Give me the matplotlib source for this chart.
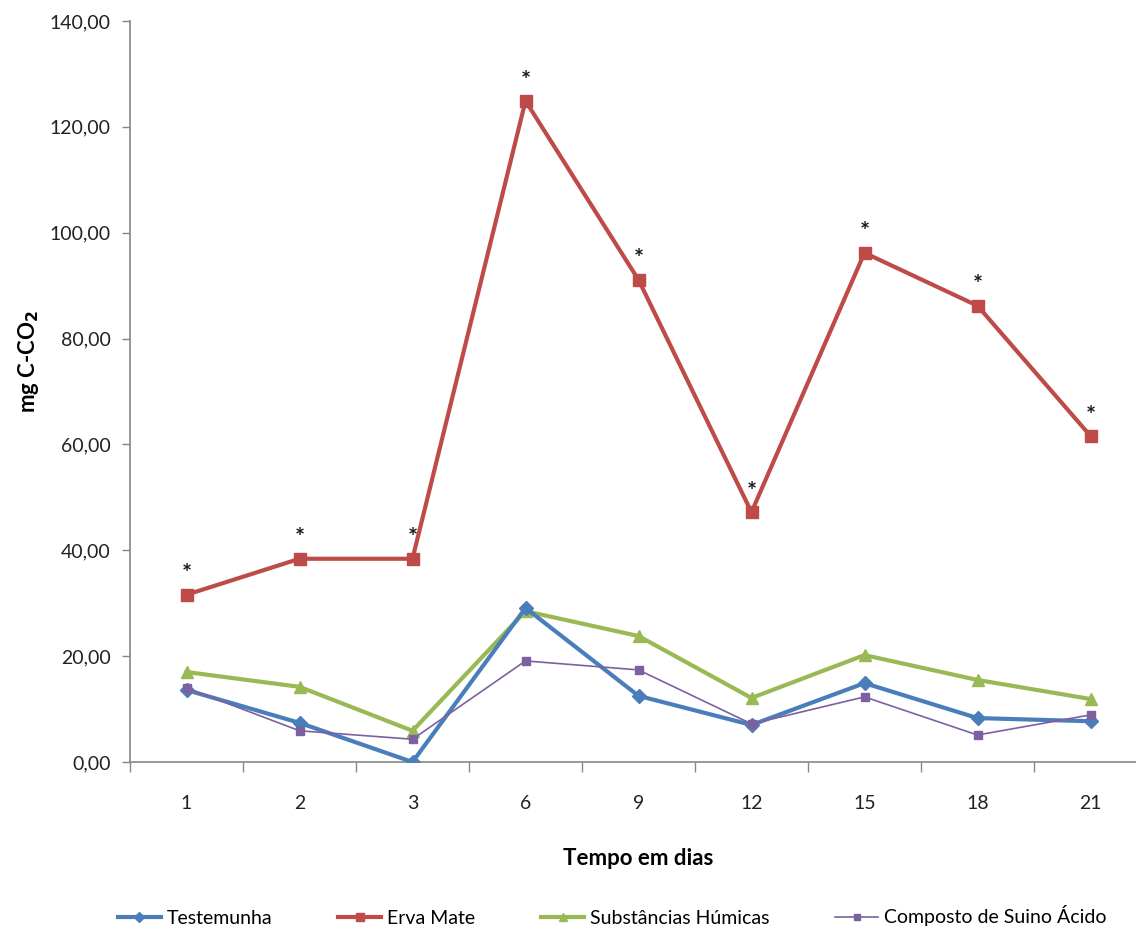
import matplotlib
matplotlib.use("Agg")
import matplotlib.pyplot as plt
import numpy as np

days = ["1", "2", "3", "6", "9", "12", "15", "18", "21"]
testemunha = [13.6, 7.4, 0.0, 29.1, 12.5, 7.0, 14.9, 8.3, 7.7]
erva_mate = [31.6, 38.4, 38.4, 124.9, 91.1, 47.2, 96.2, 86.2, 61.6]
substancias = [17.0, 14.2, 5.9, 28.5, 23.8, 12.1, 20.2, 15.5, 11.9]
composto = [14.0, 5.9, 4.3, 19.1, 17.4, 7.2, 12.3, 5.1, 8.9]
yticks = [0, 20, 40, 60, 80, 100, 120, 140]

plt.rcParams['font.family'] = ['Lato', 'DejaVu Sans']

fig = plt.figure(figsize=(11.36, 9.31), dpi=100)
ax = fig.add_axes([130/1136, 1-762/931, (1147-130)/1136, (762-21)/931])

x = np.arange(len(days))
ax.plot(x, testemunha, color='#4A7EBB', lw=3, marker='D', ms=7, label='Testemunha', zorder=4)
ax.plot(x, erva_mate, color='#BE4B48', lw=3, marker='s', ms=8, label='Erva Mate', zorder=3)
ax.plot(x, substancias, color='#98B954', lw=3, marker='^', ms=9, label='Substâncias Húmicas', zorder=3)
ax.plot(x, composto, color='#7D60A0', lw=1.2, marker='s', ms=6, label='Composto de Suino Ácido', zorder=5)

for xi, yi in zip(x, erva_mate):
    ax.annotate('*', (xi, yi), xytext=(0, 6), textcoords='offset points',
                ha='center', va='bottom', fontsize=17, fontweight='bold', color='#1a1a1a')

ax.set_xlim(-0.5, len(days) - 0.5)
ax.set_ylim(0, 140)
ax.set_yticks(yticks)
ax.set_yticklabels([f"{v:.2f}".replace('.', ',') for v in yticks], fontsize=14, color='#222222')
ax.set_xticks(x)
ax.set_xticklabels(days, fontsize=14, color='#222222')
ax.set_xticks(np.arange(-0.5, len(days)), minor=True)
ax.tick_params(axis='x', which='major', length=0, pad=24)
ax.tick_params(axis='x', which='minor', length=7, width=1, color='#868686', direction='out')
ax.tick_params(axis='y', length=6, width=1, color='#868686', direction='out', pad=8)

for s in ['top', 'right']:
    ax.spines[s].set_visible(False)
for s in ['left', 'bottom']:
    ax.spines[s].set_color('#868686')
    ax.spines[s].set_linewidth(1.2)

ax.set_xlabel('Tempo em dias', fontsize=16, fontweight='bold', labelpad=26)
ax.set_ylabel('mg C-CO$_\\mathbf{2}$', fontsize=16, fontweight='bold')
ax.yaxis.set_label_coords(-0.088, 0.54)

leg = fig.legend(loc='center', bbox_to_anchor=(0.539, 1-916/931), ncol=4, frameon=False,
                 fontsize=14, handlelength=2.2, handletextpad=0.3, columnspacing=3.4,
                 markerscale=0.7)

fig.savefig('out.png', dpi=100)
